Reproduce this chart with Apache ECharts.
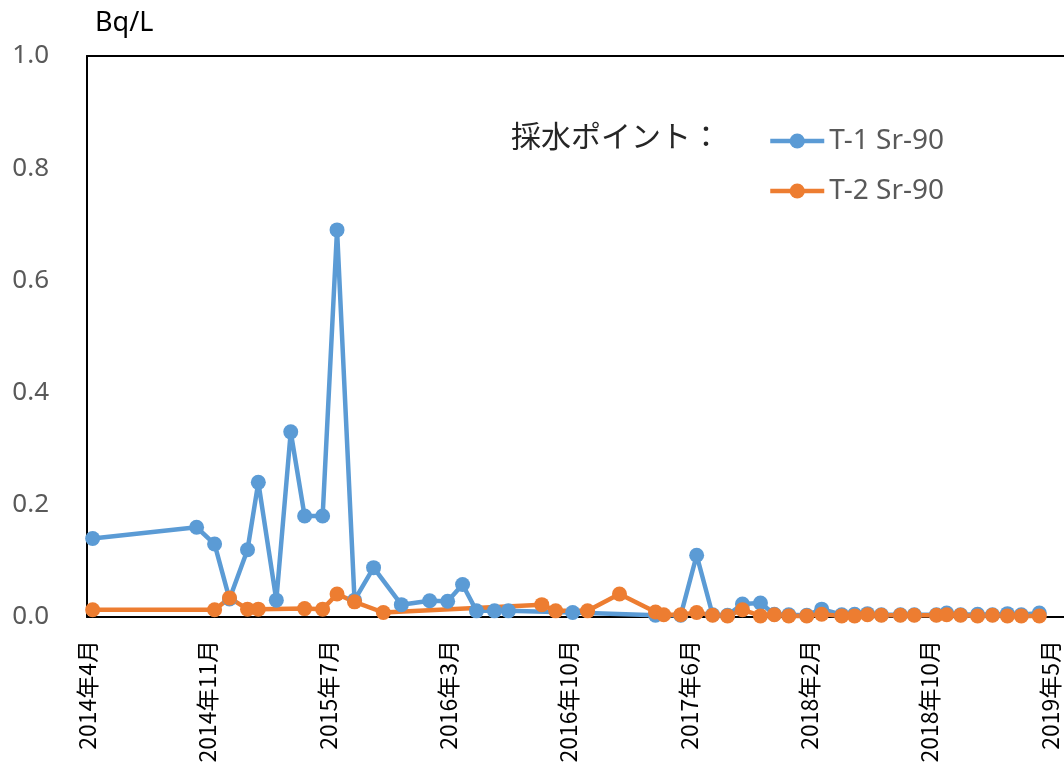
<!DOCTYPE html>
<html><head><meta charset="utf-8">
<script src="https://cdn.jsdelivr.net/npm/echarts@6/dist/echarts.min.js"></script>
<style>html,body{margin:0;padding:0;background:#fff}#c{width:1064px;height:767px}</style>
</head><body><div id="c"></div>
<script>
// Tick labels for the date axis (one every tickStepDays days from axis start)
const xTickLabels = ['2014年4月','2014年11月','2015年7月','2016年3月','2016年10月','2017年6月','2018年2月','2018年10月','2019年5月'];
const tickStepDays = 234;
const axisEndDays = 1899;
const yTickValues = [0, 0.2, 0.4, 0.6, 0.8, 1.0];
const unitLabel = 'Bq/L';
const legendTitle = '採水ポイント：';
const seriesNames = ['T-1 Sr-90', 'T-2 Sr-90'];

// Sampling days (days after axis start) and values (Bq/L)
const t1Days = [11,213,248,277,312,333,368,396,423,458,486,520,557,611,666,701,730,757,792,819,944,1105,1154,1185,1216,1245,1274,1309,1336,1364,1399,1428,1467,1492,1517,1544,1581,1608,1651,1671,1698,1731,1760,1789,1816,1851];
const t1Values = [0.14,0.16,0.13,0.032,0.12,0.24,0.03,0.33,0.18,0.18,0.69,0.03,0.088,0.022,0.029,0.028,0.058,0.011,0.011,0.011,0.008,0.003,0.003,0.11,0.004,0.003,0.023,0.025,0.005,0.004,0.003,0.014,0.004,0.005,0.006,0.004,0.004,0.004,0.004,0.007,0.004,0.005,0.004,0.006,0.004,0.007];
const t2Days = [11,248,277,312,333,423,458,486,520,576,884,911,973,1035,1105,1121,1154,1185,1216,1245,1274,1309,1336,1364,1399,1428,1467,1492,1517,1544,1581,1608,1651,1671,1698,1731,1760,1789,1816,1851];
const t2Values = [0.013,0.013,0.034,0.014,0.014,0.015,0.014,0.041,0.027,0.008,0.022,0.011,0.011,0.041,0.009,0.004,0.004,0.008,0.003,0.002,0.013,0.002,0.004,0.002,0.002,0.005,0.002,0.002,0.004,0.003,0.003,0.003,0.003,0.004,0.003,0.002,0.003,0.002,0.002,0.002];

const colors = ['#5B9BD5', '#ED7D31'];
const zip = (a, b) => a.map((d, i) => [d, b[i]]);

const chart = echarts.init(document.getElementById('c'), null, {renderer: 'canvas'});
const latin = '"Noto Sans", "Noto Sans CJK JP", sans-serif';
const cjk = '"Noto Sans CJK JP", "Noto Sans", sans-serif';

function mkSeries(name, data, color) {
  return {
    name, type: 'line', data, xAxisIndex: 0, yAxisIndex: 0,
    symbol: 'circle', symbolSize: 15, showSymbol: true,
    lineStyle: {color, width: 4.5},
    itemStyle: {color},
    emphasis: {disabled: true},
    animation: false,
    clip: false
  };
}

chart.setOption({
  animation: false,
  backgroundColor: '#fff',
  grid: {left: 87, right: 0, top: 56, bottom: 150, containLabel: false},
  graphic: [
    {type: 'text', left: 95, top: 10, style: {text: unitLabel, font: '27px ' + latin, fill: '#000'}},
    {type: 'text', left: 511, top: 121, style: {text: legendTitle, font: '30px ' + cjk, fill: '#262626'}}
  ],
  legend: {
    orient: 'vertical', left: 763, top: 122,
    itemWidth: 54, itemHeight: 19, itemGap: 22,
    data: seriesNames,
    textStyle: {color: '#595959', fontSize: 28, fontFamily: latin},
    lineStyle: {width: 4.5},
    selectedMode: false
  },
  xAxis: [
    {
      type: 'value', min: 0, max: axisEndDays, interval: tickStepDays,
      axisLine: {show: true, onZero: false, lineStyle: {color: '#000', width: 2}},
      axisTick: {show: false},
      splitLine: {show: false},
      axisLabel: {
        rotate: 90, margin: 23, color: '#000', fontSize: 23, fontFamily: cjk,
        showMaxLabel: false,
        formatter: v => {
          const i = Math.round(v / tickStepDays);
          return (Math.abs(i * tickStepDays - v) < 1e-6 && xTickLabels[i]) ? xTickLabels[i] : '';
        }
      }
    },
    {
      type: 'value', position: 'top', min: 0, max: axisEndDays, interval: tickStepDays,
      axisLine: {show: true, onZero: false, lineStyle: {color: '#000', width: 2}},
      axisTick: {show: false}, axisLabel: {show: false}, splitLine: {show: false}
    }
  ],
  yAxis: {
    type: 'value', min: 0, max: 1, interval: 0.2,
    axisLine: {show: true, lineStyle: {color: '#000', width: 2}},
    axisTick: {show: false},
    splitLine: {show: false},
    axisLabel: {
      margin: 38, color: '#595959', fontSize: 26, fontFamily: latin,
      formatter: v => yTickValues.some(t => Math.abs(t - v) < 1e-9) ? v.toFixed(1) : ''
    }
  },
  series: [
    mkSeries(seriesNames[0], zip(t1Days, t1Values), colors[0]),
    mkSeries(seriesNames[1], zip(t2Days, t2Values), colors[1])
  ]
});
</script>
</body></html>
